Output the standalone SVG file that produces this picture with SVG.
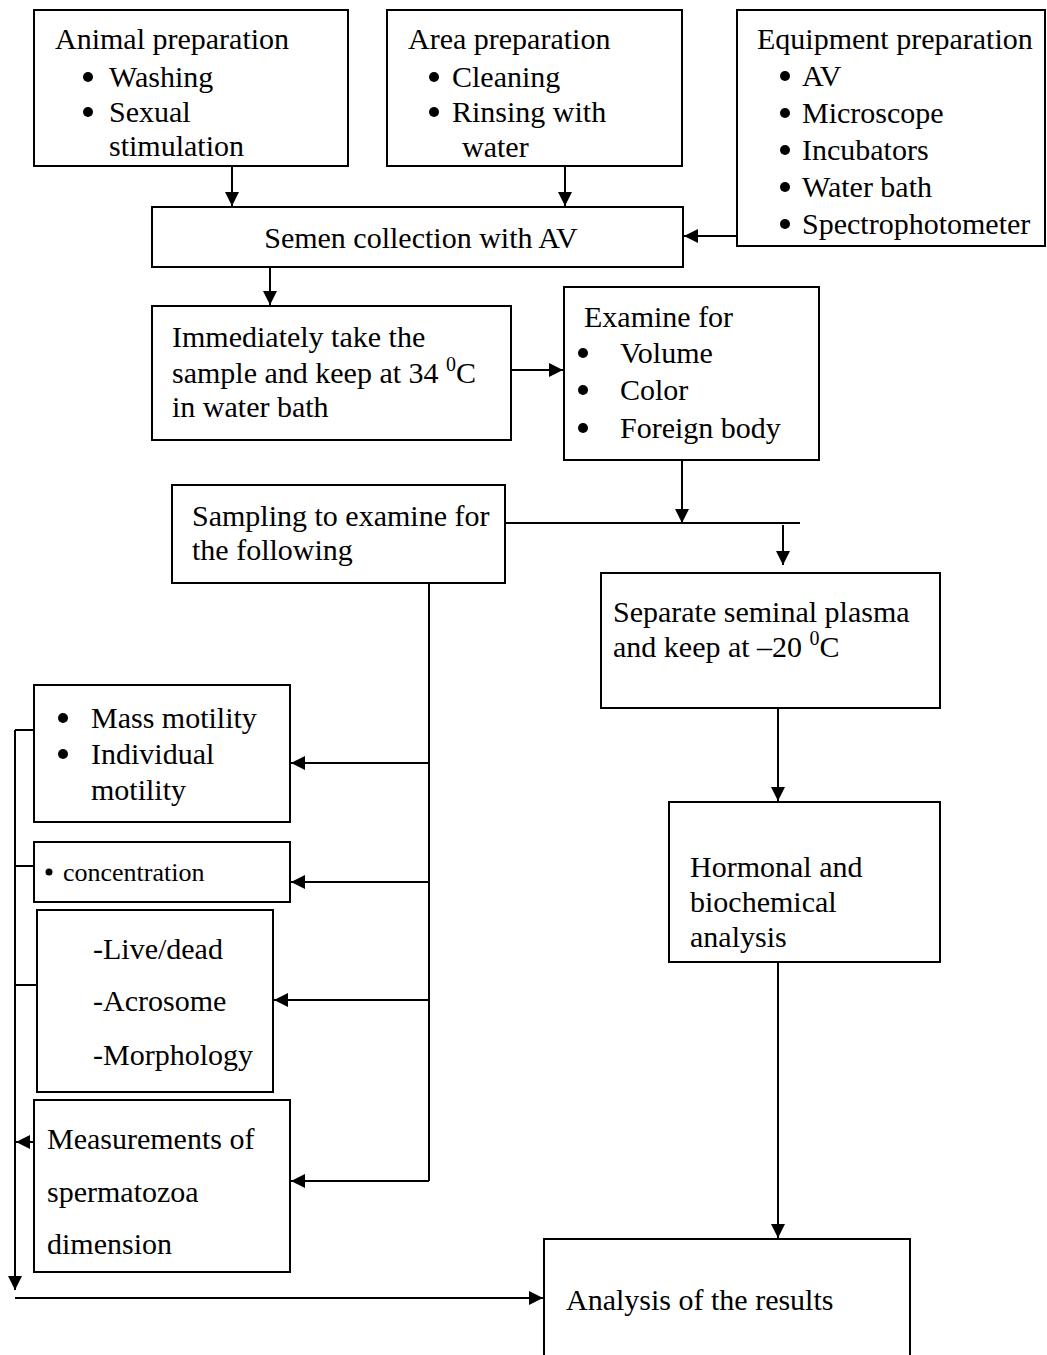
<svg xmlns="http://www.w3.org/2000/svg" width="1047" height="1355" viewBox="0 0 1047 1355">
<style>
.box{fill:#fff;stroke:#000;stroke-width:2}
.t{font-family:"Liberation Serif","Times New Roman",serif;font-size:30px;fill:#000}
.s{font-family:"Liberation Serif","Times New Roman",serif;font-size:26px;fill:#000}
.b{fill:#000}
.c{fill:none;stroke:#000;stroke-width:2}
.a{fill:none;stroke:#000;stroke-width:2;marker-end:url(#ah)}
</style>
<defs>
<marker id="ah" markerUnits="userSpaceOnUse" markerWidth="16" markerHeight="14" refX="14" refY="7" orient="auto">
<path d="M0,0 L14,7 L0,14 Z" fill="#000"/>
</marker>
</defs>
<rect width="1047" height="1355" fill="#fff"/>

<g id="animal">
<rect class="box" x="34" y="10" width="314" height="156"/>
<text class="t" x="55" y="49">Animal preparation</text>
<circle class="b" cx="88" cy="77" r="5"/><text class="t" x="109" y="87">Washing</text>
<circle class="b" cx="88" cy="112" r="5"/><text class="t" x="109" y="122">Sexual</text>
<text class="t" x="109" y="156">stimulation</text>
</g>

<g id="area">
<rect class="box" x="387" y="10" width="295" height="156"/>
<text class="t" x="408" y="49">Area preparation</text>
<circle class="b" cx="434" cy="77" r="5"/><text class="t" x="452" y="87">Cleaning</text>
<circle class="b" cx="434" cy="112" r="5"/><text class="t" x="452" y="122">Rinsing with</text>
<text class="t" x="462" y="157">water</text>
</g>

<g id="equipment">
<rect class="box" x="737" y="10" width="308" height="236"/>
<text class="t" x="757" y="49">Equipment preparation</text>
<circle class="b" cx="785" cy="76" r="5"/><text class="t" x="802" y="86">AV</text>
<circle class="b" cx="785" cy="113" r="5"/><text class="t" x="802" y="123">Microscope</text>
<circle class="b" cx="785" cy="150" r="5"/><text class="t" x="802" y="160">Incubators</text>
<circle class="b" cx="785" cy="187" r="5"/><text class="t" x="802" y="197">Water bath</text>
<circle class="b" cx="785" cy="224" r="5"/><text class="t" x="802" y="234">Spectrophotometer</text>
</g>

<g id="semen">
<rect class="box" x="152" y="207" width="531" height="60"/>
<text class="t" x="421" y="248" text-anchor="middle">Semen collection with AV</text>
</g>

<g id="immediately">
<rect class="box" x="152" y="306" width="359" height="134"/>
<text class="t" x="172" y="347">Immediately take the</text>
<text class="t" x="172" y="383">sample and keep at 34 <tspan font-size="20" dy="-12">0</tspan><tspan dy="12">C</tspan></text>
<text class="t" x="172" y="417">in water bath</text>
</g>

<g id="examine">
<rect class="box" x="564" y="287" width="255" height="173"/>
<text class="t" x="584" y="327">Examine for</text>
<circle class="b" cx="583" cy="353" r="5"/><text class="t" x="620" y="363">Volume</text>
<circle class="b" cx="583" cy="390" r="5"/><text class="t" x="620" y="400">Color</text>
<circle class="b" cx="583" cy="428" r="5"/><text class="t" x="620" y="438">Foreign body</text>
</g>

<g id="sampling">
<rect class="box" x="172" y="485" width="333" height="98"/>
<text class="t" x="192" y="526">Sampling to examine for</text>
<text class="t" x="192" y="560">the following</text>
</g>

<g id="separate">
<rect class="box" x="601" y="573" width="339" height="135"/>
<text class="t" x="613" y="622">Separate seminal plasma</text>
<text class="t" x="613" y="657">and keep at –20 <tspan font-size="20" dy="-12">0</tspan><tspan dy="12">C</tspan></text>
</g>

<g id="hormonal">
<rect class="box" x="669" y="802" width="271" height="160"/>
<text class="t" x="690" y="877">Hormonal and</text>
<text class="t" x="690" y="912">biochemical</text>
<text class="t" x="690" y="947">analysis</text>
</g>

<g id="motility">
<rect class="box" x="34" y="685" width="256" height="137"/>
<circle class="b" cx="63" cy="718" r="5"/><text class="t" x="91" y="728">Mass motility</text>
<circle class="b" cx="63" cy="754" r="5"/><text class="t" x="91" y="764">Individual</text>
<text class="t" x="91" y="800">motility</text>
</g>

<g id="concentration">
<rect class="box" x="34" y="842" width="256" height="60"/>
<circle class="b" cx="49" cy="872" r="3.5"/><text class="s" x="63" y="881">concentration</text>
</g>

<g id="livedead">
<rect class="box" x="37" y="910" width="236" height="182"/>
<text class="t" x="93" y="959">-Live/dead</text>
<text class="t" x="93" y="1011">-Acrosome</text>
<text class="t" x="93" y="1065">-Morphology</text>
</g>

<g id="measurements">
<rect class="box" x="34" y="1100" width="256" height="172"/>
<text class="t" x="47" y="1149">Measurements of</text>
<text class="t" x="47" y="1202">spermatozoa</text>
<text class="t" x="47" y="1254">dimension</text>
</g>

<g id="analysis">
<path class="box" d="M544,1355 L544,1239 L910,1239 L910,1355"/>
<text class="t" x="566" y="1310">Analysis of the results</text>
</g>

<g id="connectors">
<line class="a" x1="232" y1="166" x2="232" y2="206"/>
<line class="a" x1="565" y1="166" x2="565" y2="206"/>
<line class="a" x1="737" y1="236" x2="684" y2="236"/>
<line class="a" x1="270" y1="267" x2="270" y2="305"/>
<line class="a" x1="511" y1="370" x2="563" y2="370"/>
<line class="a" x1="682" y1="460" x2="682" y2="523"/>
<line class="c" x1="506" y1="523" x2="800" y2="523"/>
<line class="a" x1="783" y1="525" x2="783" y2="565"/>
<line class="c" x1="429" y1="583" x2="429" y2="1181"/>
<line class="a" x1="429" y1="763" x2="291" y2="763"/>
<line class="a" x1="429" y1="882" x2="291" y2="882"/>
<line class="a" x1="429" y1="1000" x2="274" y2="1000"/>
<line class="a" x1="429" y1="1181" x2="291" y2="1181"/>
<line class="a" x1="778" y1="708" x2="778" y2="801"/>
<line class="a" x1="778" y1="962" x2="778" y2="1238"/>
<line class="a" x1="15" y1="730" x2="15" y2="1290"/>
<line class="c" x1="15" y1="730" x2="34" y2="730"/>
<line class="c" x1="15" y1="866" x2="34" y2="866"/>
<line class="c" x1="15" y1="985" x2="37" y2="985"/>
<line class="a" x1="34" y1="1142" x2="16" y2="1142"/>
<line class="a" x1="15" y1="1298" x2="543" y2="1298"/>
</g>
</svg>
